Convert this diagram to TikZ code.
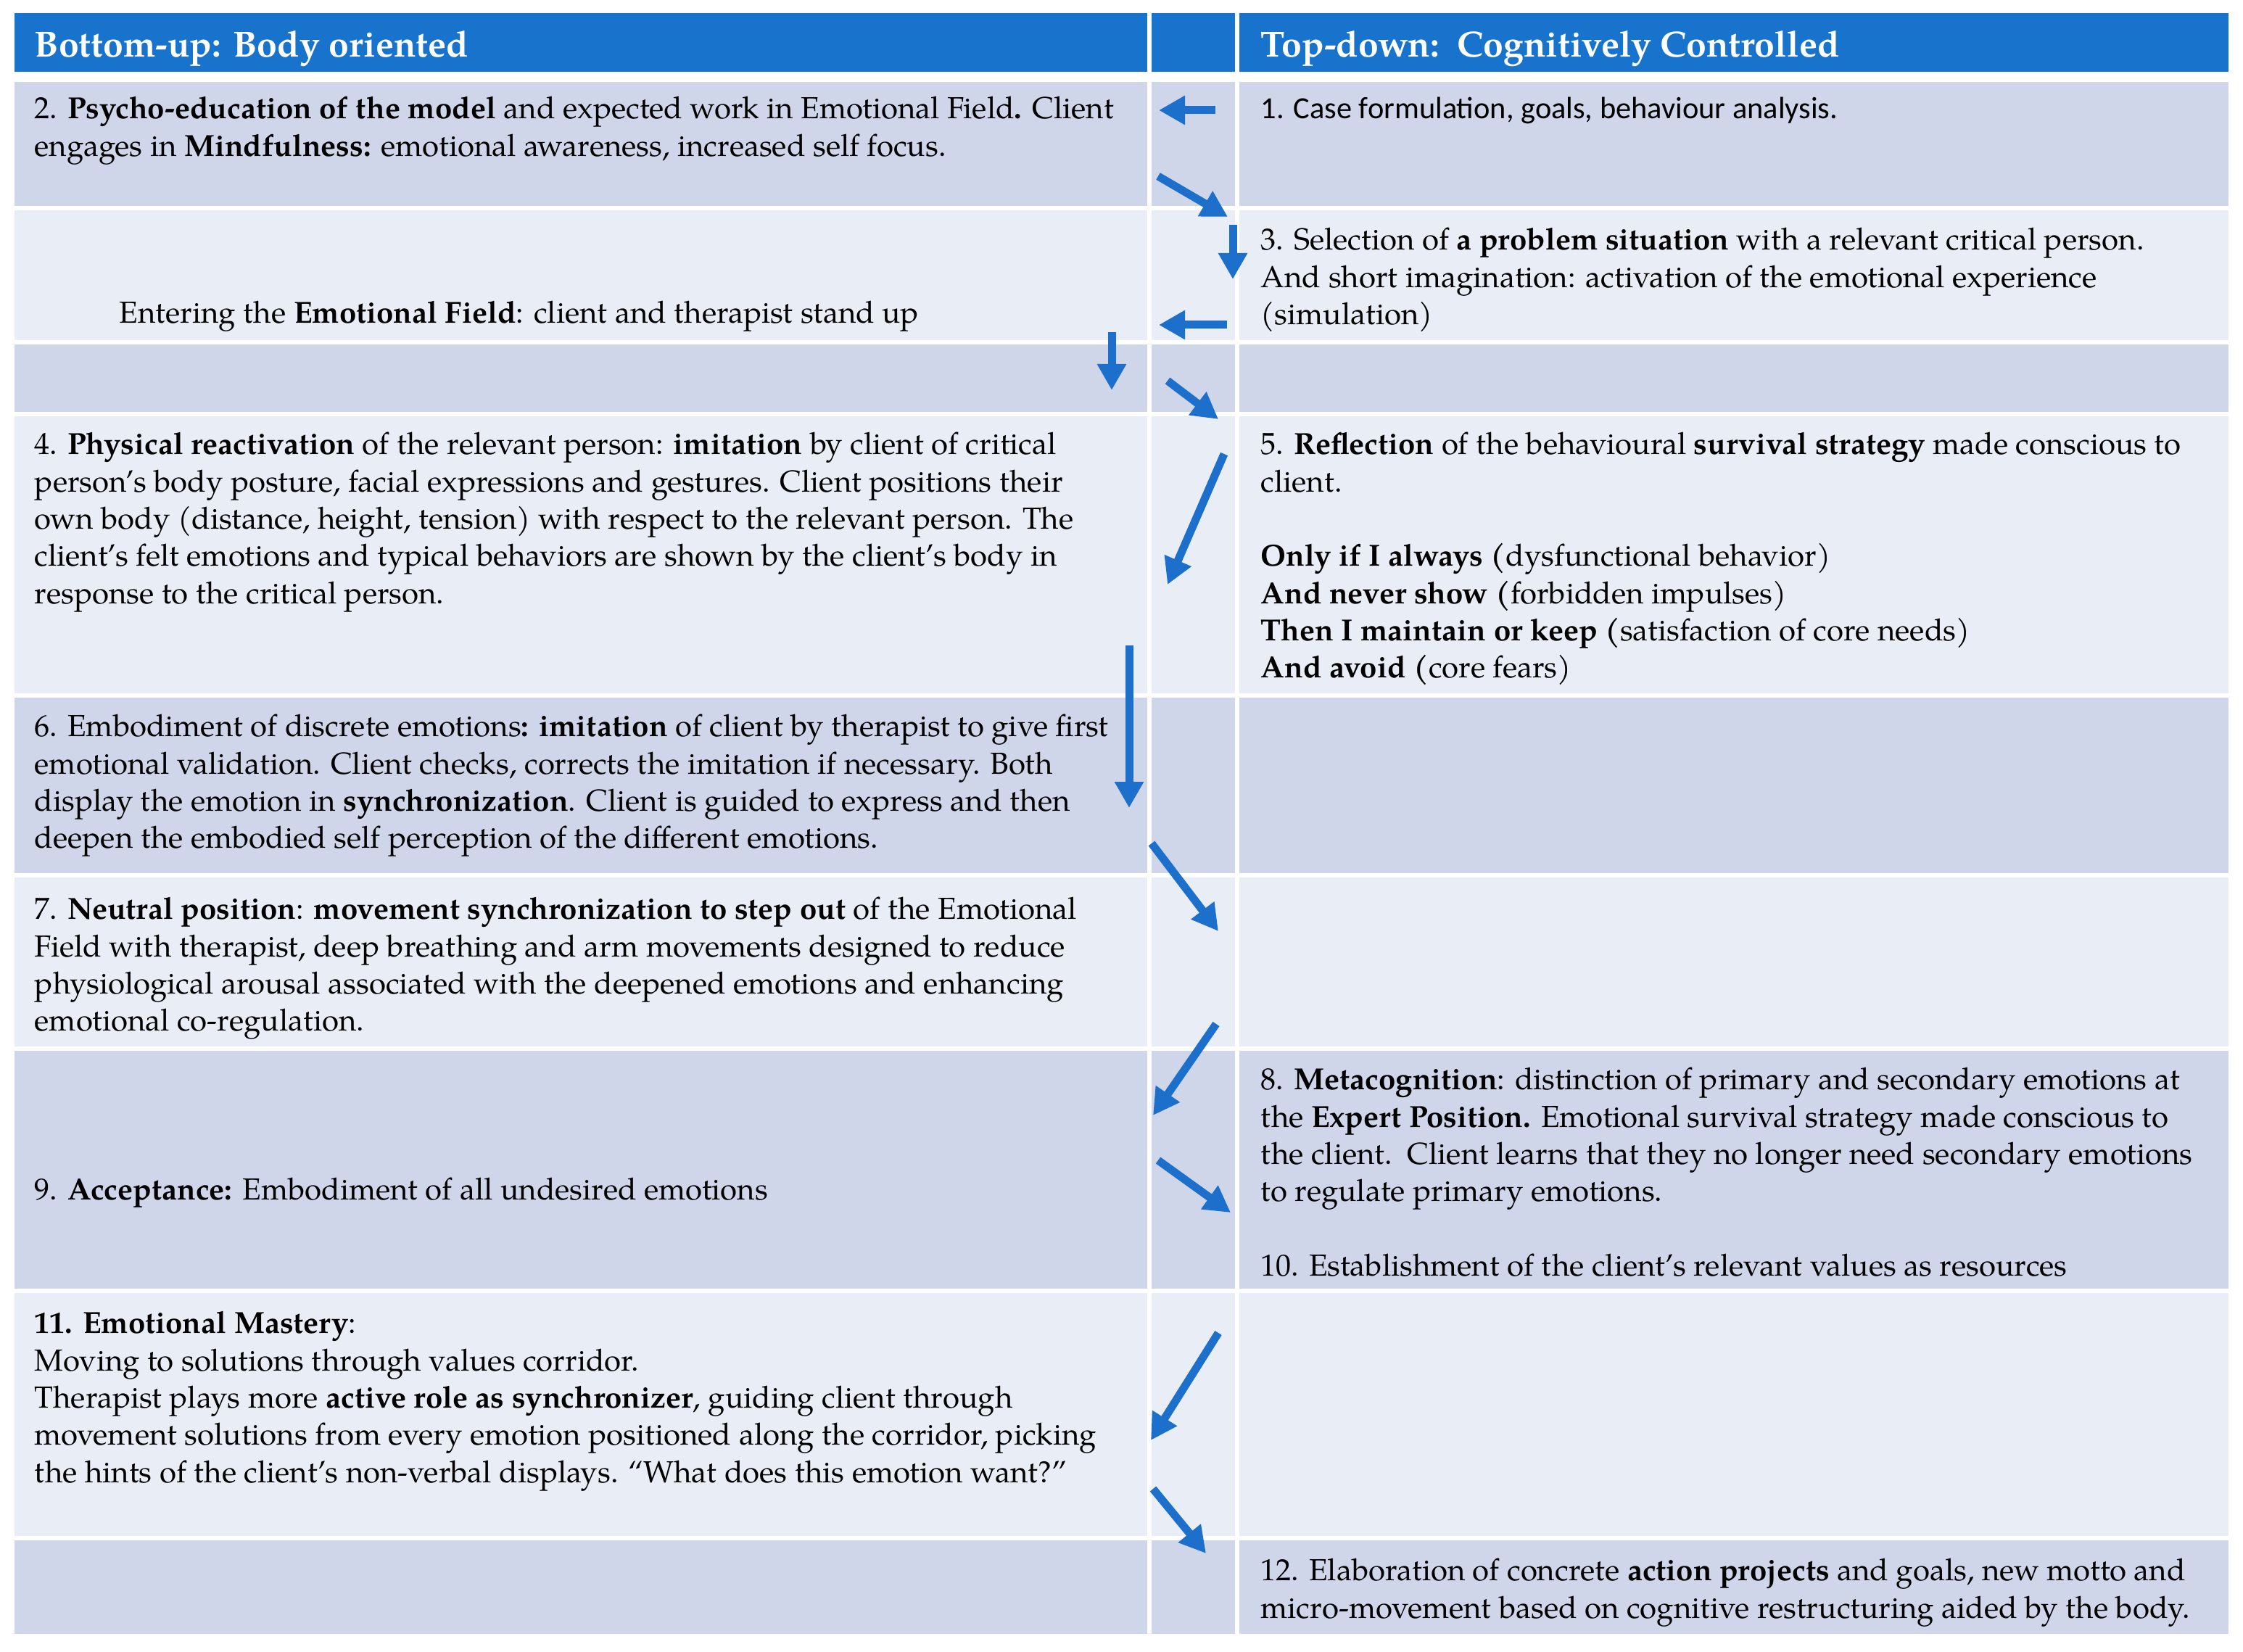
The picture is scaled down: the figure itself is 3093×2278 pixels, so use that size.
\documentclass[tikz,border=0pt]{standalone}
\usepackage{fontspec}
\setmainfont{texgyrepagella}[Extension=.otf, UprightFont=*-regular, BoldFont=*-bold, ItalicFont=*-italic, BoldItalicFont=*-bolditalic]
\newfontfamily\calfont{Carlito}
\usetikzlibrary{arrows.meta}
\definecolor{hdrblue}{RGB}{24,115,204}
\definecolor{rowdark}{RGB}{207,214,234}
\definecolor{rowlight}{RGB}{233,237,246}
\definecolor{arrowblue}{RGB}{28,112,204}
\newcommand\bodyfont{\fontsize{10.5}{12.83}\selectfont}
\newcommand\headfont{\fontsize{12.5}{15}\selectfont\bfseries}
\tikzset{
  cell/.style={anchor=north west, inner sep=0pt, align=left, font=\bodyfont},
  hdr/.style={anchor=base west, inner sep=0pt, font=\headfont, text=white},
  flow/.style={draw=arrowblue, line width=2.75pt, -{Triangle[length=9pt,width=9.5pt]}}
}
\begin{document}
\begin{tikzpicture}[x=0.25pt,y=-0.25pt]
\useasboundingbox (0,0) rectangle (3093,2278);
% header
\fill[hdrblue] (20,18) rectangle (1582,99);
\fill[hdrblue] (1588,18) rectangle (1703,99);
\fill[hdrblue] (1709,18) rectangle (3073,99);
% rows: top, bottom, colour
\foreach \t/\b/\c in {113/284/rowdark, 290/469/rowlight, 475/568/rowdark, 574/956/rowlight,
  962/1204/rowdark, 1210/1443/rowlight, 1449/1777/rowdark, 1783/2118/rowlight, 2124/2253/rowdark}{
  \fill[\c] (20,\t) rectangle (1582,\b);
  \fill[\c] (1588,\t) rectangle (1703,\b);
  \fill[\c] (1709,\t) rectangle (3073,\b);
}
\node[hdr] (hl) at (47,79) {Bottom-up: Body oriented};
\node[hdr] (hr) at (1738,79) {Top-down:\ \ Cognitively Controlled};
% row 1
\node[cell] (c2) at (47,127) {\strut 2. \textbf{Psycho-education of the model} and expected work in Emotional Field\textbf{.} Client\\
engages in \textbf{Mindfulness:} emotional awareness, increased self focus.};
\node[cell, font=\calfont\fontsize{10.6}{12.83}\selectfont] (c1) at (1738,127) {\strut 1. Case formulation, goals, behaviour analysis.};
% row 2
\node[cell] (c3) at (1738,308) {\strut 3. Selection of \textbf{a problem situation} with a relevant critical person.\\
And short imagination: activation of the emotional experience\\
(simulation)};
\node[cell] (ce) at (164,409) {\strut Entering the \textbf{Emotional Field}: client and therapist stand up};
% row 4
\node[cell] (c4) at (47,590) {\strut 4. \textbf{Physical reactivation} of the relevant person: \textbf{imitation} by client of critical\\
person’s body posture, facial expressions and gestures. Client positions their\\
own body (distance, height, tension) with respect to the relevant person. The\\
client’s felt emotions and typical behaviors are shown by the client’s body in\\
response to the critical person.};
\node[cell] (c5) at (1738,590) {\strut 5. \textbf{Reflection} of the behavioural \textbf{survival strategy} made conscious to\\
client.\\
\strut\\
\textbf{Only if I always (}dysfunctional behavior)\\
\textbf{And never show (}forbidden impulses)\\
\textbf{Then I maintain or keep (}satisfaction of core needs)\\
\textbf{And avoid (}core fears)};
% row 5
\node[cell] (c6) at (47,979) {\strut 6. Embodiment of discrete emotions\textbf{: imitation} of client by therapist to give first\\
emotional validation. Client checks, corrects the imitation if necessary. Both\\
display the emotion in \textbf{synchronization}. Client is guided to express and then\\
deepen the embodied self perception of the different emotions.};
% row 6
\node[cell] (c7) at (47,1231) {\strut 7. \textbf{Neutral position}: \textbf{movement synchronization to step out} of the Emotional\\
Field with therapist, deep breathing and arm movements designed to reduce\\
physiological arousal associated with the deepened emotions and enhancing\\
emotional co-regulation.};
% row 7
\node[cell] (c8) at (1738,1466) {\strut 8. \textbf{Metacognition}: distinction of primary and secondary emotions at\\
the \textbf{Expert Position.} Emotional survival strategy made conscious to\\
the client.\ \ Client learns that they no longer need secondary emotions\\
to regulate primary emotions.\\
\strut\\
10. Establishment of the client’s relevant values as resources};
\node[cell] (c9) at (47,1618) {\strut 9. \textbf{Acceptance:} Embodiment of all undesired emotions};
% row 8
\node[cell] (c11) at (47,1802) {\strut\textbf{11. Emotional Mastery}:\\
Moving to solutions through values corridor.\\
Therapist plays more \textbf{active role as synchronizer}, guiding client through\\
movement solutions from every emotion positioned along the corridor, picking\\
the hints of the client’s non-verbal displays. “What does this emotion want?”};
% row 9
\node[cell] (c12) at (1738,2143) {\strut 12. Elaboration of concrete \textbf{action projects} and goals, new motto and\\
micro-movement based on cognitive restructuring aided by the body.};
% arrow end points
\coordinate (a1s) at (1676,152);  \coordinate (a1e) at (1598,152);
\coordinate (a2s) at (1597,243);  \coordinate (a2e) at (1693,299);
\coordinate (a3s) at (1700,310);  \coordinate (a3e) at (1700,385);
\coordinate (a4s) at (1692,448);  \coordinate (a4e) at (1598,448);
\coordinate (a5s) at (1533,458);  \coordinate (a5e) at (1533,538);
\coordinate (a6s) at (1610,525);  \coordinate (a6e) at (1680,578);
\coordinate (a7s) at (1688,626);  \coordinate (a7e) at (1610,806);
\coordinate (a8s) at (1557,890);  \coordinate (a8e) at (1557,1114);
\coordinate (a9s) at (1588,1163); \coordinate (a9e) at (1680,1284);
\coordinate (a10s) at (1677,1412); \coordinate (a10e) at (1590,1538);
\coordinate (a11s) at (1597,1600); \coordinate (a11e) at (1697,1672);
\coordinate (a12s) at (1680,1838); \coordinate (a12e) at (1587,1986);
\coordinate (a13s) at (1590,2053); \coordinate (a13e) at (1663,2142);
\foreach \i in {1,...,13}{\draw[flow] (a\i s) -- (a\i e);}
\end{tikzpicture}
\end{document}
